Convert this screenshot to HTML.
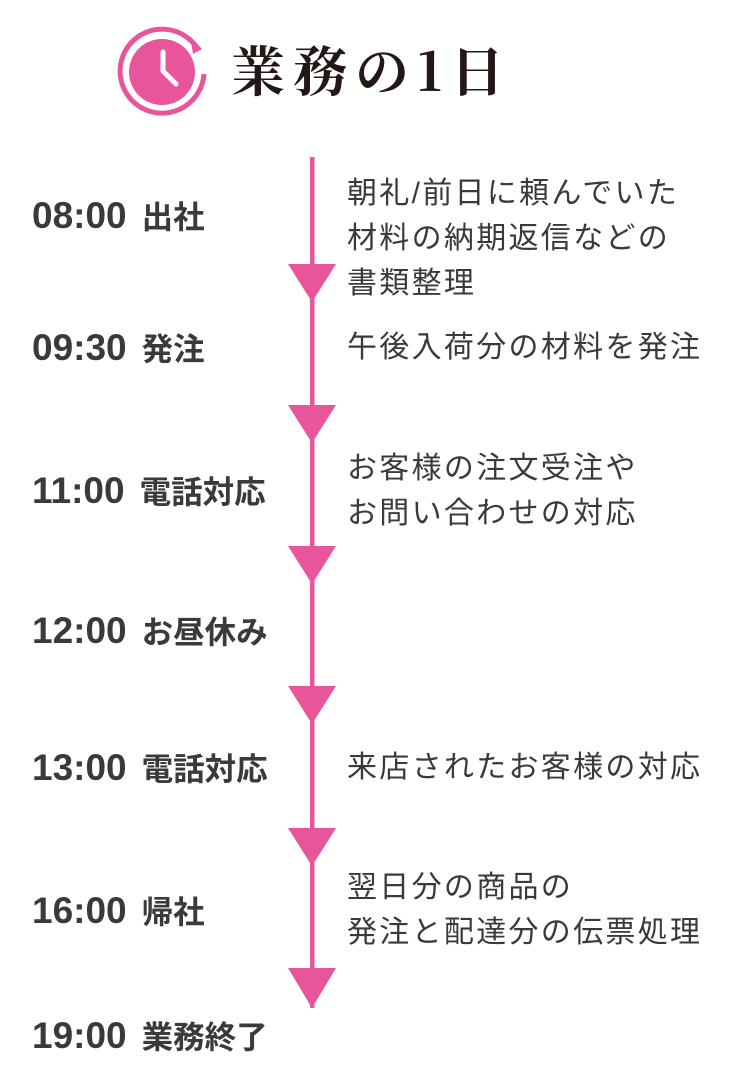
<!DOCTYPE html>
<html><head><meta charset="utf-8"><style>
html,body{margin:0;padding:0;background:#fff;}
body{width:746px;height:1074px;position:relative;overflow:hidden;font-family:"Liberation Sans","Noto Sans CJK JP",sans-serif;color:#3a3a3a;}
.t{position:absolute;left:32px;font-weight:bold;white-space:nowrap;line-height:1;}
.t .n{font-size:37px;letter-spacing:0px;}
.t .j{font-size:31.5px;margin-left:15px;}
.d{position:absolute;left:347px;font-size:30px;letter-spacing:2.3px;line-height:45px;white-space:nowrap;}
.title{position:absolute;left:231px;top:42px;font-family:"Noto Serif CJK JP","Noto Serif CJK SC",serif;font-size:54px;font-weight:bold;color:#231815;letter-spacing:8px;line-height:1;white-space:nowrap;}
</style></head><body>
<svg width="746" height="1074" style="position:absolute;left:0;top:0">
<path d="M 198.4 50 A 42 42 0 1 0 204 74" fill="none" stroke="#e8559a" stroke-width="5"/>
<polygon points="190,36 202,49 193,54" fill="#e8559a"/>
<circle cx="162" cy="72" r="33" fill="#e8559a"/>
<polyline points="163,52 163,71 176,84" fill="none" stroke="#fff" stroke-width="5" stroke-linecap="round" stroke-linejoin="round"/>
<rect x="310" y="157" width="4.5" height="851" fill="#e8559a"/>
<g fill="#e8559a">
<polygon points="288,264 336,264 312,302"/>
<polygon points="288,405 336,405 312,443"/>
<polygon points="288,546 336,546 312,584"/>
<polygon points="288,686 336,686 312,724"/>
<polygon points="288,828 336,828 312,866"/>
<polygon points="288,968 336,968 312,1008"/>
</g>
</svg>
<div class="title">業務の1日</div>
<div class="t" style="top:197px"><span class="n">08:00</span><span class="j">出社</span></div>
<div class="t" style="top:329px"><span class="n">09:30</span><span class="j">発注</span></div>
<div class="t" style="top:472px"><span class="n">11:00</span><span class="j">電話対応</span></div>
<div class="t" style="top:612px"><span class="n">12:00</span><span class="j">お昼休み</span></div>
<div class="t" style="top:749px"><span class="n">13:00</span><span class="j">電話対応</span></div>
<div class="t" style="top:892px"><span class="n">16:00</span><span class="j">帰社</span></div>
<div class="t" style="top:1017px"><span class="n">19:00</span><span class="j">業務終了</span></div>
<div class="d" style="top:171px">朝礼/前日に頼んでいた<br>材料の納期返信などの<br>書類整理</div>
<div class="d" style="top:325px">午後入荷分の材料を発注</div>
<div class="d" style="top:446px">お客様の注文受注や<br>お問い合わせの対応</div>
<div class="d" style="top:745px">来店されたお客様の対応</div>
<div class="d" style="top:865px">翌日分の商品の<br>発注と配達分の伝票処理</div>
</body></html>
